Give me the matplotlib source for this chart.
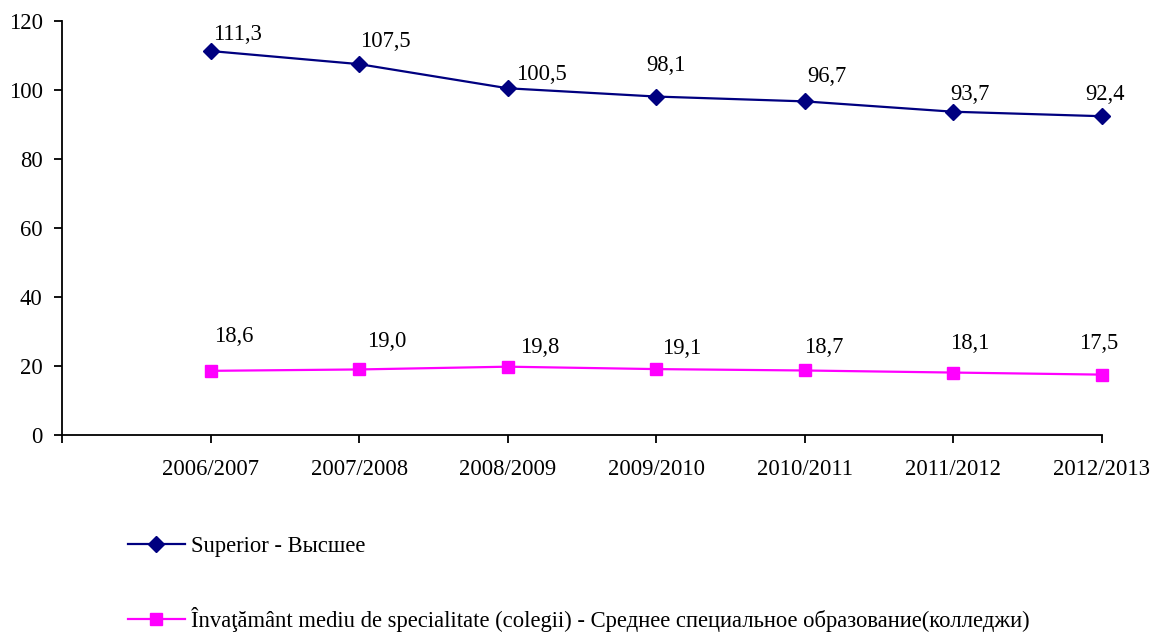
import matplotlib
matplotlib.use('Agg')
import matplotlib.pyplot as plt

plt.rcParams['font.family'] = ['Liberation Serif', 'DejaVu Serif']
plt.rcParams['font.size'] = 16.3

years = ['2006/2007', '2007/2008', '2008/2009', '2009/2010',
         '2010/2011', '2011/2012', '2012/2013']
superior = [111.3, 107.5, 100.5, 98.1, 96.7, 93.7, 92.4]
colegii = [18.6, 19.0, 19.8, 19.1, 18.7, 18.1, 17.5]
label_superior = 'Superior - Высшее'
label_colegii = ('Învaţământ mediu de specialitate (colegii) - '
                 'Среднее специальное образование(колледжи)')

# label offsets (pixels) as placed in the original
off_sup = [(27, 17), (26, 23), (34, 14), (10, 31), (22, 25), (17, 17), (3, 22)]
off_col = [(23, 34), (28, 28), (32, 19), (25, 21), (19, 23), (16, 29), (-3, 31)]

fig = plt.figure(figsize=(11.57, 6.33), dpi=100)
ax = fig.add_axes([62 / 1157, 1 - 435 / 633, (1102 - 62) / 1157, (435 - 21) / 633])

x = list(range(len(years)))
l1, = ax.plot(x, superior, color='#000080', lw=1.6, marker='D', ms=8.5,
              label=label_superior, clip_on=False)
l2, = ax.plot(x, colegii, color='#FF00FF', lw=1.6, marker='s', ms=8.5,
              label=label_colegii, clip_on=False)

for xi, v, o in zip(x, superior, off_sup):
    ax.annotate(f'{v:.1f}'.replace('.', ','), (xi, v), xytext=o,
                textcoords='offset pixels', ha='center', va='center')
for xi, v, o in zip(x, colegii, off_col):
    ax.annotate(f'{v:.1f}'.replace('.', ','), (xi, v), xytext=o,
                textcoords='offset pixels', ha='center', va='center')

ax.set_xlim(-1, len(years) - 1)
ax.set_ylim(0, 120)
ax.set_yticks(range(0, 121, 20))
ax.set_xticks(range(-1, len(years)))
ax.set_xticklabels([''] + years)

for s in ['top', 'right']:
    ax.spines[s].set_visible(False)
for s in ['left', 'bottom']:
    ax.spines[s].set_linewidth(1.3)
ax.tick_params(axis='y', direction='out', length=6, width=1.3, pad=8)
ax.tick_params(axis='x', direction='out', length=6, width=1.3, pad=11)

fig.legend(handles=[l1, l2], loc='upper left', bbox_to_anchor=(128 / 1157, 1 - 536 / 633),
           frameon=False, handlelength=2.5, handletextpad=0.3, labelspacing=2.2,
           borderaxespad=0, borderpad=0)

fig.savefig('out.png', dpi=100)
